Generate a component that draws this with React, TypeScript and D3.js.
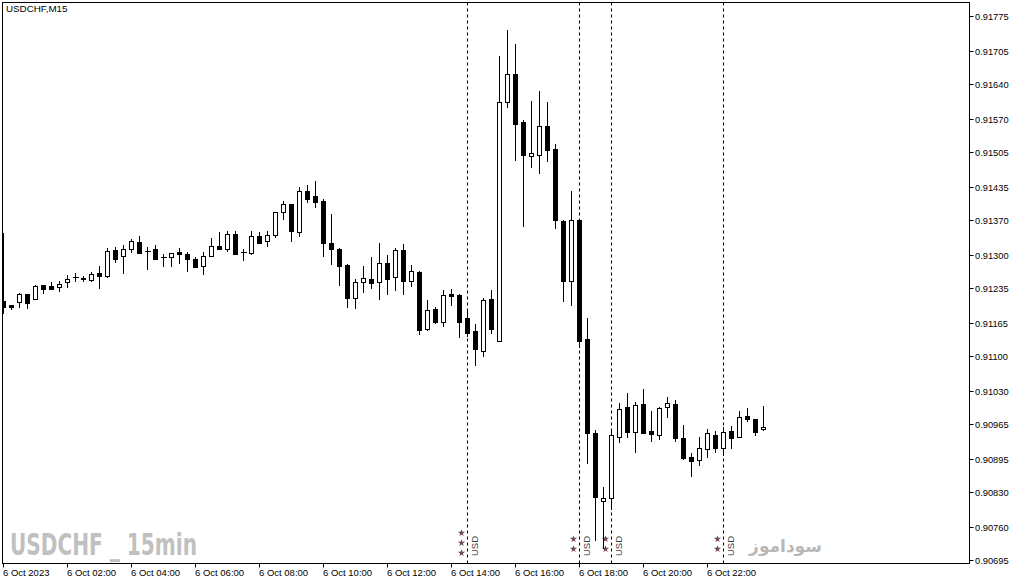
import React from 'react'
import * as d3 from 'd3'

// USDCHF M15, 6 Oct 2023, one bar per 15 minutes from 00:00
const opens = [
  0.91209, 0.91201, 0.91207, 0.91223, 0.91213, 0.91241, 0.91239, 0.91237, 0.91247, 0.91257,
  0.91255, 0.91251, 0.91265, 0.91259, 0.91311, 0.91299, 0.91313, 0.91326, 0.91309, 0.91313,
  0.91297, 0.91297, 0.91307, 0.91303, 0.91293, 0.91279, 0.91299, 0.91318, 0.91313, 0.91342,
  0.91306, 0.91305, 0.91338, 0.91328, 0.9134, 0.91386, 0.91402, 0.91346, 0.91428, 0.91418,
  0.91408, 0.91324, 0.91313, 0.91281, 0.91215, 0.91247, 0.91253, 0.91247, 0.91285, 0.91257,
  0.91311, 0.91249, 0.91267, 0.91154, 0.91193, 0.91168, 0.91223, 0.91221, 0.91176, 0.9115,
  0.9111, 0.91213, 0.9113, 0.91604, 0.9166, 0.91565, 0.91497, 0.91499, 0.91557, 0.91511,
  0.91368, 0.91249, 0.9137, 0.91134, 0.90947, 0.90812, 0.90818, 0.90939, 0.90999, 0.90949,
  0.91005, 0.90951, 0.90943, 0.90999, 0.91005, 0.90937, 0.909, 0.90894, 0.90916, 0.90943,
  0.90918, 0.90951, 0.90939, 0.90981, 0.90975, 0.90955,
]
const highs = [
  0.91344, 0.91201, 0.91225, 0.91223, 0.91241, 0.91241, 0.91247, 0.91249, 0.91261, 0.91265,
  0.91259, 0.91267, 0.91279, 0.91315, 0.91317, 0.9132, 0.91332, 0.91338, 0.91317, 0.9132,
  0.91303, 0.91305, 0.91315, 0.91307, 0.91297, 0.91307, 0.91334, 0.91346, 0.91348, 0.91348,
  0.91313, 0.91348, 0.91346, 0.91348, 0.91386, 0.91408, 0.91402, 0.91436, 0.9144, 0.91447,
  0.91412, 0.91382, 0.91315, 0.91283, 0.91253, 0.91279, 0.91297, 0.91324, 0.91301, 0.91315,
  0.91322, 0.91281, 0.91269, 0.91211, 0.91197, 0.91231, 0.91233, 0.91223, 0.91193, 0.91164,
  0.91215, 0.91231, 0.91696, 0.91747, 0.91719, 0.91569, 0.91606, 0.91626, 0.91604, 0.91521,
  0.9137, 0.91428, 0.9137, 0.91176, 0.90953, 0.9084, 0.90955, 0.91007, 0.91027, 0.91009,
  0.91035, 0.90991, 0.90999, 0.91019, 0.91013, 0.90963, 0.90908, 0.90939, 0.90955, 0.90951,
  0.90959, 0.90961, 0.90991, 0.90997, 0.90975, 0.91001,
]
const lows = [
  0.91186, 0.91193, 0.91197, 0.91195, 0.91213, 0.91225, 0.91233, 0.91229, 0.91237, 0.91249,
  0.91249, 0.91249, 0.91235, 0.91257, 0.91287, 0.91265, 0.91307, 0.91305, 0.91273, 0.91293,
  0.91279, 0.91279, 0.91285, 0.91269, 0.91277, 0.91263, 0.91299, 0.91313, 0.91309, 0.91303,
  0.91291, 0.91303, 0.91324, 0.91318, 0.91336, 0.91372, 0.91328, 0.91338, 0.91406, 0.91396,
  0.91299, 0.91283, 0.91241, 0.91197, 0.91195, 0.91227, 0.91235, 0.91213, 0.91223, 0.91231,
  0.91223, 0.91239, 0.91144, 0.91152, 0.91166, 0.9116, 0.91201, 0.91138, 0.9114, 0.91082,
  0.911, 0.91146, 0.9113, 0.91594, 0.91489, 0.91358, 0.91475, 0.91463, 0.91487, 0.91354,
  0.91209, 0.91201, 0.91118, 0.90888, 0.90735, 0.90719, 0.90796, 0.90929, 0.90939, 0.9091,
  0.90947, 0.90931, 0.90935, 0.90979, 0.90931, 0.90896, 0.90862, 0.90884, 0.909, 0.9091,
  0.90904, 0.90918, 0.90939, 0.90971, 0.90943, 0.90953,
]
const closes = [
  0.91197, 0.91197, 0.91223, 0.91205, 0.91239, 0.91233, 0.91233, 0.91243, 0.91253, 0.91257,
  0.91252, 0.91263, 0.91259, 0.91309, 0.91293, 0.91313, 0.91328, 0.91305, 0.91309, 0.91293,
  0.91297, 0.91305, 0.91302, 0.91293, 0.91277, 0.91299, 0.91318, 0.91313, 0.91342, 0.91303,
  0.91306, 0.91338, 0.91324, 0.9134, 0.91386, 0.91402, 0.91348, 0.91428, 0.91412, 0.91406,
  0.91324, 0.91313, 0.91279, 0.91215, 0.91247, 0.91255, 0.91245, 0.91285, 0.91253, 0.91311,
  0.91249, 0.91269, 0.91152, 0.91191, 0.91168, 0.91221, 0.91219, 0.91168, 0.91146, 0.91114,
  0.91211, 0.91154, 0.91604, 0.9166, 0.91561, 0.91499, 0.91503, 0.91557, 0.91509, 0.9137,
  0.91249, 0.9137, 0.9113, 0.90947, 0.9082, 0.90818, 0.90943, 0.90995, 0.90949, 0.91003,
  0.90947, 0.90945, 0.90997, 0.91007, 0.90937, 0.90898, 0.90892, 0.90918, 0.90947, 0.90918,
  0.90949, 0.90937, 0.90979, 0.90975, 0.90949, 0.90959,
]

const timeLabels = [
  '6 Oct 2023', '6 Oct 02:00', '6 Oct 04:00', '6 Oct 06:00', '6 Oct 08:00', '6 Oct 10:00',
  '6 Oct 12:00', '6 Oct 14:00', '6 Oct 16:00', '6 Oct 18:00', '6 Oct 20:00', '6 Oct 22:00',
]
const barsPerLabel = 8

const priceTicks = [
  0.91775, 0.91705, 0.9164, 0.9157, 0.91505, 0.91435, 0.9137, 0.913, 0.91235,
  0.91165, 0.911, 0.9103, 0.90965, 0.90895, 0.9083, 0.9076, 0.90695,
]

// USD news events (bar index, number of importance stars)
const eventBars = [58, 72, 76, 90]
const eventStars = [3, 2, 2, 2]

const W = 1015
const H = 584
const frame = { left: 2.5, top: 2.5, right: 969.5, bottom: 563.5 }
const font = 'Tahoma, "Liberation Sans", Arial, sans-serif'

export default function App() {
  const x = d3.scaleLinear().domain([0, opens.length - 1]).range([3, 3 + 8 * (opens.length - 1)])
  const y = d3.scaleLinear().domain([0.90695, 0.91775]).range([560, 16])
  const star = d3.symbol(d3.symbolStar, 16)() || ''

  return (
    <div style={{ position: 'absolute', left: 0, top: 0 }}>
      <svg width={W} height={H} viewBox={`0 0 ${W} ${H}`} style={{ display: 'block', background: '#fff' }}>
        <defs>
          <clipPath id="plot">
            <rect x={frame.left + 0.5} y={frame.top + 0.5} width={frame.right - frame.left - 1} height={frame.bottom - frame.top - 1} />
          </clipPath>
        </defs>

        {/* watermarks */}
        <text x={10} y={555} fontFamily='"Liberation Sans Narrow", "DejaVu Sans Condensed", sans-serif' fontWeight="bold"
          fontSize={31} fill="#c0c0c0" textLength={187} lengthAdjust="spacingAndGlyphs">
          USDCHF _ 15min
        </text>
        <text x={822} y={552} fontFamily='"DejaVu Sans", sans-serif' fontWeight="bold" fontSize={17}
          fill="#b8b8b8" textAnchor="end">
          سوداموز
        </text>

        {/* event lines */}
        {eventBars.map((b, k) => {
          const ex = Math.round(x(b)) + 0.5
          const n = eventStars[k]
          return (
            <g key={`ev-${k}`}>
              <line x1={ex} x2={ex} y1={frame.top} y2={frame.bottom} stroke="#000" strokeDasharray="3,3" />
              {d3.range(n).map((s) => (
                <path key={s} d={star} fill="#6a4a4a"
                  transform={`translate(${ex - 6},${(n === 3 ? 553 : 549) - s * 10})`} />
              ))}
              <text transform={`translate(${ex + 10},${546}) rotate(-90)`} textAnchor="middle"
                fontFamily={font} fontSize={9.5} fill="#444">USD</text>
            </g>
          )
        })}

        {/* candles */}
        <g clipPath="url(#plot)">
          {opens.map((o, i) => {
            const c = closes[i]
            const cx = Math.round(x(i)) + 0.5
            const yH = Math.round(y(highs[i]))
            const yL = Math.round(y(lows[i]))
            const yT = Math.round(y(Math.max(o, c)))
            const yB = Math.round(y(Math.min(o, c)))
            const up = c >= o
            return (
              <g key={`c-${i}`}>
                <line x1={cx} x2={cx} y1={yH} y2={yL + 1} stroke="#000" />
                {yB - yT < 1 ? (
                  <line x1={cx - 2.5} x2={cx + 3.5} y1={yT + 0.5} y2={yT + 0.5} stroke="#000" />
                ) : (
                  <rect x={cx - 2} y={yT + 0.5} width={4} height={yB - yT}
                    fill={up ? '#fff' : '#000'} stroke="#000" />
                )}
              </g>
            )
          })}
        </g>

        {/* frame */}
        <rect x={frame.left} y={frame.top} width={frame.right - frame.left} height={frame.bottom - frame.top}
          fill="none" stroke="#000" />

        {/* price axis */}
        {priceTicks.map((p) => {
          const ty = Math.round(y(p)) + 0.5
          return (
            <g key={`p-${p}`}>
              <line x1={frame.right} x2={frame.right + 4} y1={ty} y2={ty} stroke="#000" />
              <text x={975} y={ty} dy="0.35em" fontFamily={font} fontSize={9.3} fill="#000">
                {d3.format('.5f')(p)}
              </text>
            </g>
          )
        })}

        {/* time axis */}
        {timeLabels.map((t, k) => {
          const tx = Math.round(x(k * barsPerLabel)) + 0.5
          return (
            <g key={`t-${k}`}>
              <line x1={tx} x2={tx} y1={frame.bottom} y2={frame.bottom + 4} stroke="#000" />
              <text x={tx - 0.5} y={576} fontFamily={font} fontSize={9.5} fill="#000">{t}</text>
            </g>
          )
        })}

        <text x={6} y={12} fontFamily={font} fontSize={9.8} fill="#000">USDCHF,M15</text>
      </svg>
    </div>
  )
}
